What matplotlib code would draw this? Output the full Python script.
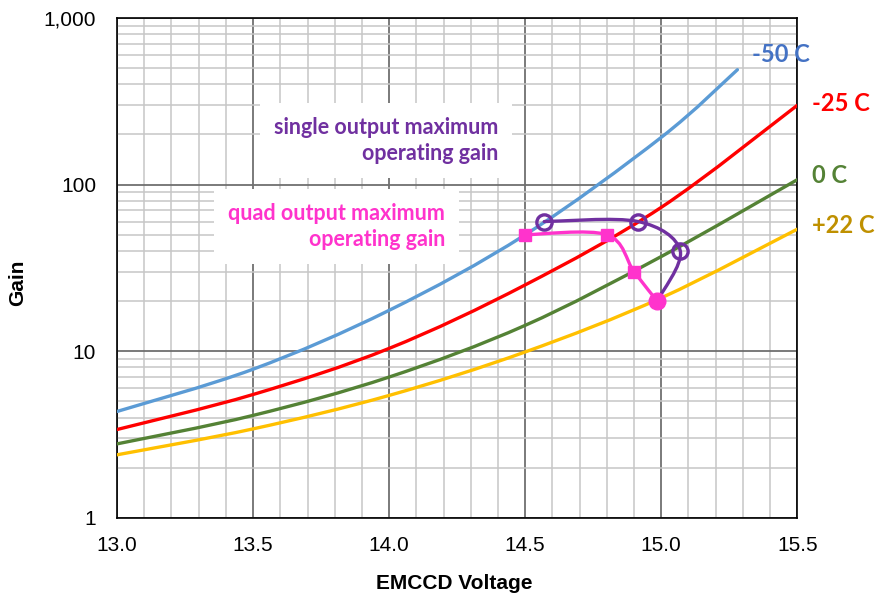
import numpy as np
import matplotlib
matplotlib.use("Agg")
import matplotlib.pyplot as plt
from matplotlib.path import Path
from matplotlib.patches import PathPatch
from matplotlib.ticker import MultipleLocator, FixedLocator, FuncFormatter, NullFormatter

# gain vs EMCCD voltage
voltage = [13.0, 13.5, 14.0, 14.5, 15.0, 15.5]
gain_m50 = [4.35, 7.8, 17.6, 50.0, 192.0]
volt_m50 = [13.0, 13.5, 14.0, 14.5, 15.0, 15.28]
gain_m50_end = 489.0
gain_m25 = [3.39, 5.5, 10.4, 25.0, 73.0, 299.0]
gain_0 = [2.78, 4.12, 7.0, 14.3, 37.0, 107.0]
gain_22 = [2.39, 3.42, 5.43, 9.9, 20.9, 54.0]

single_v = [14.57, 14.915, 15.07, 14.985]
single_g = [60.0, 60.0, 40.0, 20.0]
quad_v = [14.5, 14.80, 14.90, 14.985]
quad_g = [50.0, 50.0, 30.0, 20.0]


def smooth_patch(xs, ys, color, lw, zorder):
    # Catmull-Rom in (x, log y) space, drawn as cubic Bezier segments
    p = np.column_stack([np.asarray(xs, float), np.log10(ys)])
    pts = np.vstack([p[0], p, p[-1]])
    verts = [p[0]]
    codes = [Path.MOVETO]
    for i in range(1, len(pts) - 2):
        c1 = pts[i] + (pts[i + 1] - pts[i - 1]) / 6.0
        c2 = pts[i + 1] - (pts[i + 2] - pts[i]) / 6.0
        verts += [c1, c2, pts[i + 1]]
        codes += [Path.CURVE4] * 3
    verts = np.array(verts)
    verts[:, 1] = 10 ** verts[:, 1]
    return PathPatch(Path(verts, codes), fill=False, edgecolor=color, lw=lw,
                     capstyle="round", joinstyle="round", zorder=zorder)


fig = plt.figure(figsize=(8.8, 5.98), dpi=100)
ax = fig.add_axes([0.133, 0.134, 0.773, 0.836])
ax.set_yscale("log")
ax.set_xlim(13.0, 15.5)
ax.set_ylim(1, 1000)

ax.xaxis.set_major_locator(MultipleLocator(0.5))
ax.xaxis.set_minor_locator(MultipleLocator(0.1))
ax.xaxis.set_major_formatter(FuncFormatter(lambda v, _: f"{v:.1f}"))
ax.yaxis.set_major_locator(FixedLocator([1, 10, 100, 1000]))
ax.yaxis.set_minor_locator(FixedLocator([m * d for d in (1, 10, 100) for m in range(2, 10)]))
ax.yaxis.set_major_formatter(FuncFormatter(lambda v, _: f"{v:,.0f}"))
ax.yaxis.set_minor_formatter(NullFormatter())

ax.grid(which="major", color="#6f6f6f", lw=1.3, zorder=0)
ax.grid(which="minor", color="#c6c6c6", lw=1.1, zorder=0)
ax.set_axisbelow(True)
ax.tick_params(which="both", length=0, labelsize=15, colors="black")
ax.tick_params(axis="x", pad=13)
ax.tick_params(axis="y", pad=15)
for lab in ax.get_xticklabels() + ax.get_yticklabels():
    lab.set_fontfamily("Liberation Sans")
for s in ax.spines.values():
    s.set_color("black")
    s.set_linewidth(1.2)

curves = [
    (volt_m50, gain_m50 + [gain_m50_end], "#5b9bd5"),
    (voltage, gain_m25, "#ff0000"),
    (voltage, gain_0, "#548235"),
    (voltage, gain_22, "#ffc000"),
]
for xs, ys, c in curves:
    ax.add_patch(smooth_patch(xs, ys, c, 2.4, 3))

ax.add_patch(smooth_patch(single_v, single_g, "#7030a0", 2.4, 4))
ax.add_patch(smooth_patch(quad_v, quad_g, "#ff33cc", 2.4, 5))
ax.plot(single_v[:3], single_g[:3], ls="none", marker="o", ms=11, mfc="none",
        mec="#7030a0", mew=2.4, zorder=6)
ax.plot(quad_v, quad_g, ls="none", marker="s", ms=9, mfc="#ff33cc",
        mec="#ff33cc", zorder=6)
ax.plot(quad_v[-1:], quad_g[-1:], ls="none", marker="o", ms=12, mfc="#ff33cc",
        mec="#ff33cc", zorder=6)

lab_font = dict(family=["Lato", "DejaVu Sans"], fontweight="bold", fontsize=17,
                va="center", ha="left", clip_on=False)
ax.text(15.335, 607, "-50 C", color="#4472c4", **lab_font)
ax.text(15.555, 307, "-25 C", color="#ff0000", **lab_font)
ax.text(15.555, 113, "0 C", color="#548235", **lab_font)
ax.text(15.555, 56.6, "+22 C", color="#bf9000", **lab_font)

note_font = dict(family=["Lato", "DejaVu Sans"], fontweight="bold", fontsize=15.5,
                 ha="right", va="center", multialignment="right", linespacing=1.3,
                 zorder=2)
ax.text(14.40, 185, "single output maximum\noperating gain", color="#7030a0",
        bbox=dict(boxstyle="square,pad=0.65", fc="white", ec="none"), **note_font)
ax.text(14.206, 55.8, "quad output maximum\noperating gain", color="#ff33cc",
        bbox=dict(boxstyle="square,pad=0.65", fc="white", ec="none"), **note_font)

ax.set_xlabel("EMCCD Voltage", fontsize=15, fontweight="bold",
              fontfamily="Liberation Sans")
ax.xaxis.set_label_coords(0.495, -0.112)
ax.set_ylabel("Gain", fontsize=15, fontweight="bold",
              fontfamily="Liberation Sans")
ax.yaxis.set_label_coords(-0.132, 0.47)

fig.savefig("out.png", dpi=100)
